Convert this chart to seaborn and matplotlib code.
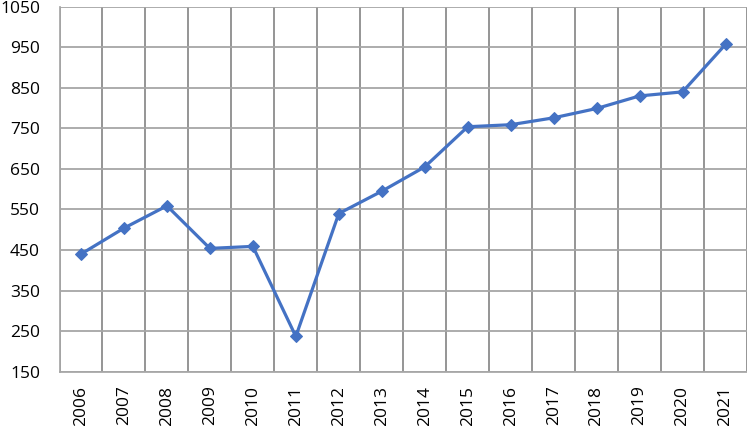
import matplotlib
matplotlib.use("Agg")
import matplotlib.pyplot as plt
import seaborn as sns
import pandas as pd

years = ["2006", "2007", "2008", "2009", "2010", "2011", "2012", "2013",
         "2014", "2015", "2016", "2017", "2018", "2019", "2020", "2021"]
values = [440, 504, 559, 454, 459, 237, 540, 595,
          655, 754, 759, 776, 799, 830, 840, 957]
y_ticks = [150, 250, 350, 450, 550, 650, 750, 850, 950, 1050]

sns.set_theme(style="white")
plt.rcParams["font.family"] = ["Open Sans", "DejaVu Sans"]

df = pd.DataFrame({"year": years, "value": values})

fig = plt.figure(figsize=(7.47, 4.26), dpi=100)
ax = fig.add_axes([59.5 / 747, 54.3 / 426, 687.5 / 747, 365 / 426])

sns.lineplot(data=df, x="year", y="value", ax=ax, color="#4472C4",
             linewidth=2.3, marker="D", markersize=6.5,
             markeredgecolor="#4472C4", sort=False)

ax.set_xlim(-0.5, len(years) - 0.5)
ax.set_ylim(150, 1050)
ax.set_yticks(y_ticks)
ax.set_xticks(range(len(years)))
ax.set_xticks([i - 0.5 for i in range(len(years) + 1)], minor=True)
ax.set_xticklabels(years, rotation=90)
ax.grid(False)
ax.grid(axis="y", which="major", color="#a6a6a6", linewidth=1.3)
ax.grid(axis="x", which="minor", color="#8c8c8c", linewidth=1.3)
ax.set_axisbelow(True)
for s in ax.spines.values():
    s.set_visible(False)
ax.spines["left"].set_visible(True)
ax.spines["left"].set_color("#a6a6a6")
ax.spines["bottom"].set_visible(True)
ax.spines["bottom"].set_color("#a6a6a6")
ax.tick_params(axis="both", which="both", length=0, labelsize=12.5,
               colors="#000000")
ax.tick_params(axis="y", pad=14)
ax.tick_params(axis="x", pad=10)
ax.set_xlabel("")
ax.set_ylabel("")

fig.savefig("out.png", dpi=100)
